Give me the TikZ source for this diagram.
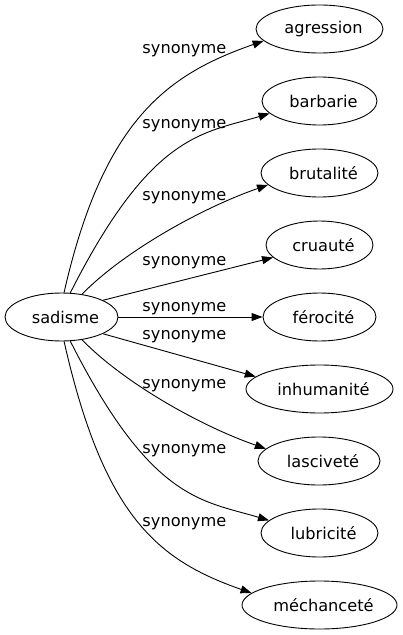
\documentclass[tikz,border=0pt]{standalone}
\usepackage{fontspec}
\setmainfont{DejaVu Sans}
\usetikzlibrary{shapes.geometric,arrows.meta}
\begin{document}
\begin{tikzpicture}[x=1bp,y=-1bp,
  every node/.style={font=\fontsize{16.2bp}{19bp}\selectfont, text=black},
  word/.style={ellipse, draw=black, line width=0.9bp, inner sep=0pt, minimum height=48bp,
    execute at begin node={\hspace*{8bp}}},
  syn/.style={anchor=base, inner sep=0pt},
  link/.style={line width=0.9bp, -{Triangle[length=11bp,width=8bp]}}]
\useasboundingbox (0,0) rectangle (402,635);
\node[word, minimum width=113bp] (sadisme) at (61.5,317) {sadisme};
\node[word, minimum width=127bp] (agression) at (319.5,29) {agression};
\node[word, minimum width=115bp] (barbarie) at (319.5,101) {barbarie};
\node[word, minimum width=117bp] (brutalite) at (319.5,173) {brutalité};
\node[word, minimum width=107bp] (cruaute) at (319.5,245) {cruauté};
\node[word, minimum width=113bp] (ferocite) at (319.5,317) {férocité};
\node[word, minimum width=147bp] (inhumanite) at (319.5,389) {inhumanité};
\node[word, minimum width=122bp] (lascivete) at (319,461) {lasciveté};
\node[word, minimum width=117bp] (lubricite) at (319.5,533) {lubricité};
\node[word, minimum width=155bp] (mechancete) at (319.5,605) {méchanceté};

\draw[link] (sadisme.84) .. controls +(39.6,-174.6) and +(-94.5,33) .. (agression.192);
\draw[link] (sadisme.70) .. controls +(81,-160) and +(-67,20) .. (barbarie.194);
\draw[link] (sadisme.48) .. controls +(42,-43) and +(-66,23) .. (brutalite.193);
\draw[link] (sadisme.22) -- (cruaute.195);
\draw[link] (sadisme.east) -- (ferocite.west);
\draw[link] (sadisme.-22) -- (inhumanite.169);
\draw[link] (sadisme.-48) .. controls +(42,43) and +(-66,-23) .. (lascivete.167);
\draw[link] (sadisme.-70) .. controls +(81,160) and +(-67,-20) .. (lubricite.166);
\draw[link] (sadisme.-84) .. controls +(39.6,174.6) and +(-94.5,-33) .. (mechancete.170);

\node[syn] (l1) at (184.4,53.3) {synonyme};
\node[syn] (l2) at (184.4,128.3) {synonyme};
\node[syn] (l3) at (184.4,200) {synonyme};
\node[syn] (l4) at (184.4,265) {synonyme};
\node[syn] (l5) at (184.4,311.7) {synonyme};
\node[syn] (l6) at (184.4,339.3) {synonyme};
\node[syn] (l7) at (184.4,388.3) {synonyme};
\node[syn] (l8) at (184.4,453.3) {synonyme};
\node[syn] (l9) at (184.4,526) {synonyme};
\end{tikzpicture}
\end{document}
